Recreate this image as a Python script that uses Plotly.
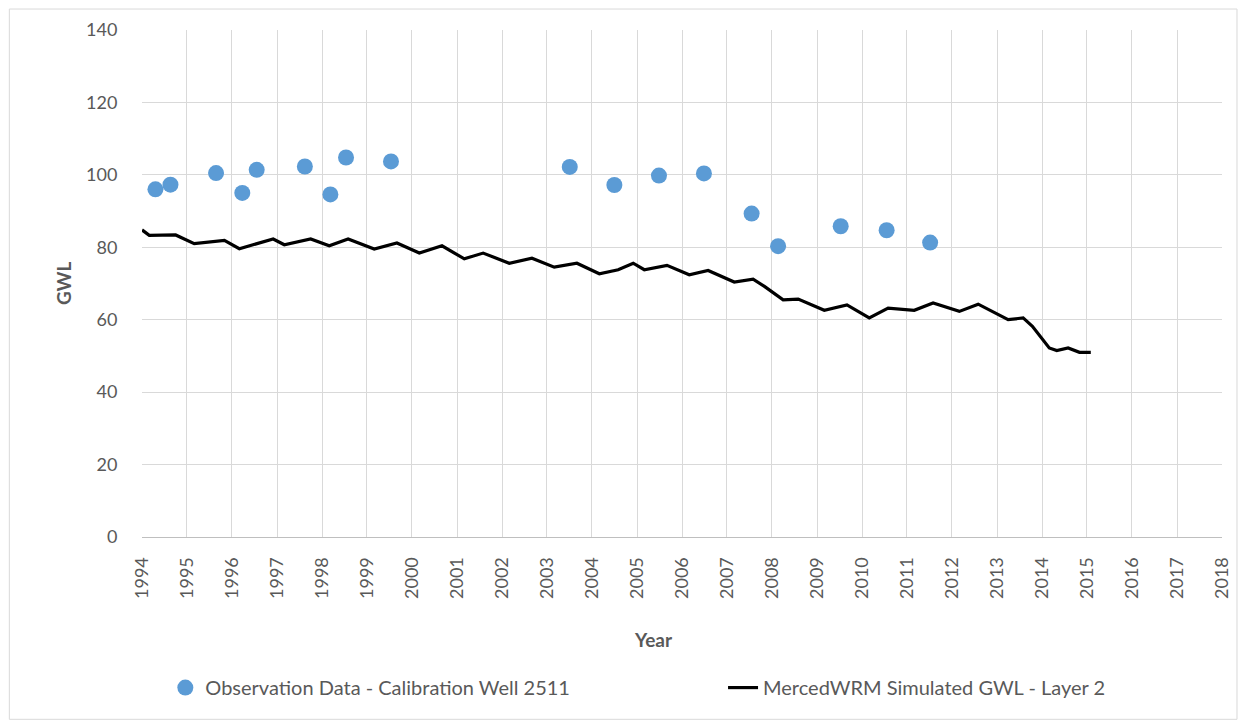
import plotly.graph_objects as go

# Observation data - Calibration Well 2511
obs_dates = ["1994-04-20", "1994-08-20", "1995-08-25", "1996-03-25", "1996-07-20",
             "1997-08-15", "1998-03-10", "1998-07-15", "1999-07-15", "2003-07-05",
             "2004-07-01", "2005-06-28", "2006-06-28", "2007-07-20", "2008-02-20",
             "2009-07-12", "2010-07-20", "2011-07-08"]
obs_values = [96.0, 97.3, 100.5, 95.0, 101.4, 102.3, 94.6, 104.8, 103.7, 102.2,
              97.2, 99.8, 100.4, 89.3, 80.3, 85.8, 84.7, 81.3]

# MercedWRM Simulated GWL - Layer 2
sim_dates = ["1994-01-01", "1994-03-01", "1994-10-01", "1995-03-01", "1995-11-01",
             "1996-03-01", "1996-12-01", "1997-03-01", "1997-10-01", "1998-03-01",
             "1998-08-01", "1999-03-01", "1999-09-01", "2000-03-01", "2000-09-01",
             "2001-03-01", "2001-08-01", "2002-03-01", "2002-09-01", "2003-03-01",
             "2003-09-01", "2004-03-01", "2004-08-01", "2004-12-01", "2005-03-01",
             "2005-09-01", "2006-03-01", "2006-08-01", "2007-03-01", "2007-08-01",
             "2007-11-01", "2008-04-01", "2008-08-01", "2009-03-01", "2009-09-01",
             "2010-03-01", "2010-08-01", "2011-03-01", "2011-08-01", "2012-03-01",
             "2012-08-01", "2013-04-01", "2013-08-01", "2013-10-15", "2014-03-01",
             "2014-05-01", "2014-08-01", "2014-11-01", "2015-02-01"]
sim_values = [84.8, 83.3, 83.4, 81.0, 81.9,
              79.6, 82.3, 80.7, 82.3, 80.4,
              82.3, 79.5, 81.2, 78.4, 80.4,
              76.8, 78.4, 75.6, 77.0, 74.5,
              75.6, 72.7, 73.8, 75.6, 73.8,
              75.0, 72.4, 73.6, 70.4, 71.2,
              69.2, 65.5, 65.7, 62.6, 64.1,
              60.5, 63.2, 62.6, 64.6, 62.3,
              64.3, 60.0, 60.5, 58.2, 52.2,
              51.5, 52.2, 51.0, 51.0]

x_range = ["1994-01-01", "2018-01-01"]
y_range = [0, 140]

FONT = "Lato, 'Open Sans', sans-serif"
GREY_TXT = "#595959"

fig = go.Figure()
fig.add_trace(go.Scatter(
    x=obs_dates, y=obs_values, mode="markers",
    name="Observation Data - Calibration Well 2511",
    marker=dict(size=16, color="#5B9BD5", line=dict(width=0)),
    legend="legend",
))
fig.add_trace(go.Scatter(
    x=sim_dates, y=sim_values, mode="lines",
    name="MercedWRM Simulated GWL - Layer 2",
    line=dict(color="black", width=3.2),
    legend="legend2",
))

leg_common = dict(orientation="h", xanchor="left", y=-0.297, yanchor="middle",
                  font=dict(size=20, color=GREY_TXT), bgcolor="rgba(0,0,0,0)")

fig.update_layout(
    width=1244, height=718,
    margin=dict(l=134, r=30, t=22, b=188.5, autoexpand=False),
    paper_bgcolor="white", plot_bgcolor="white",
    font=dict(family=FONT, size=18, color=GREY_TXT),
    showlegend=True,
    legend=dict(x=0.0216, **leg_common),
    legend2=dict(x=0.538, **leg_common),
    shapes=[dict(type="rect", xref="paper", yref="paper",
                 x0=(9 - 141.7) / 1080.3, x1=(1237 - 141.7) / 1080.3,
                 y0=(537.5 - 720) / 507.5, y1=(537.5 - 9) / 507.5,
                 line=dict(color="#D9D9D9", width=1), fillcolor="rgba(0,0,0,0)",
                 layer="below")],
    annotations=[
        dict(text="<b>Year</b>", xref="paper", yref="paper",
             x=(653 - 141.7) / 1080.3, y=(537.5 - 640) / 507.5,
             xanchor="center", yanchor="middle", showarrow=False,
             font=dict(size=19, color=GREY_TXT)),
        dict(text="<b>GWL</b>", xref="paper", yref="paper",
             x=(63 - 141.7) / 1080.3, y=(537.5 - 283) / 507.5,
             xanchor="center", yanchor="middle", showarrow=False, textangle=-90,
             font=dict(size=19, color=GREY_TXT)),
    ],
)
fig.update_xaxes(
    type="date", range=x_range, dtick="M12", tick0="1994-01-01", tickformat="%Y",
    tickangle=-90, showgrid=True, gridcolor="#D9D9D9", gridwidth=1,
    showline=True, linecolor="#BFBFBF", linewidth=1,
    ticks="outside", ticklen=12, tickcolor="rgba(0,0,0,0)",
    tickfont=dict(size=18, color=GREY_TXT), automargin=False,
    zeroline=False,
)
fig.update_yaxes(
    range=y_range, dtick=20, showgrid=True, gridcolor="#D9D9D9", gridwidth=1,
    showline=False, zeroline=False,
    ticks="outside", ticklen=20, tickcolor="rgba(0,0,0,0)",
    tickfont=dict(size=18, color=GREY_TXT), automargin=False,
)

fig.write_html("out.html")
